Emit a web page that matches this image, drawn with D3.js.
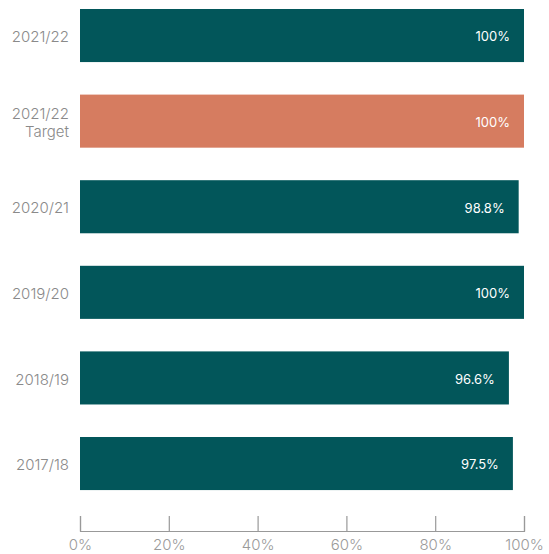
<!DOCTYPE html>
<html>
<head>
<meta charset="utf-8">
<script src="https://cdn.jsdelivr.net/npm/d3@7"></script>
<style>
  html, body { margin: 0; padding: 0; background: #fff; }
  svg { display: block; }
</style>
</head>
<body>
<svg id="chart" width="549" height="554"></svg>
<script>
// Annual performance against target (percent)
const categories = ["2021/22", "2021/22\nTarget", "2020/21", "2019/20", "2018/19", "2017/18"];
const values = [100, 100, 98.8, 100, 96.6, 97.5];
const isTarget = [false, true, false, false, false, false];
const tickValues = [0, 20, 40, 60, 80, 100];

const svg = d3.select("#chart");

const x = d3.scaleLinear().domain([0, 100]).range([80, 524]);

const step = 85.6;
const y = d3.scaleBand()
  .domain(categories)
  .range([9 - 0.19 * step, 9 - 0.19 * step + step * 6])
  .paddingInner(0.38)
  .paddingOuter(0.19);

const teal = "#02565A";
const coral = "#D67C60";
const font = "Inter, 'Open Sans', sans-serif";

// bars
svg.append("g").selectAll("rect")
  .data(categories)
  .join("rect")
  .attr("x", x(0))
  .attr("y", d => y(d))
  .attr("width", (d, i) => x(values[i]) - x(0))
  .attr("height", y.bandwidth())
  .attr("fill", (d, i) => isTarget[i] ? coral : teal);

// value labels inside bar ends
svg.append("g").selectAll("text")
  .data(categories)
  .join("text")
  .attr("x", (d, i) => x(values[i]) - 14)
  .attr("y", d => y(d) + y.bandwidth() / 2)
  .attr("dy", "0.45em")
  .attr("text-anchor", "end")
  .attr("fill", "#fff")
  .attr("font-family", font)
  .attr("font-size", 13)
  .text((d, i) => values[i] + "%");

// category labels
const cat = svg.append("g").selectAll("text")
  .data(categories)
  .join("text")
  .attr("text-anchor", "end")
  .attr("fill", "#8a8a8a")
  .attr("font-family", font)
  .attr("font-weight", 300)
  .attr("font-size", 15);

cat.each(function(d) {
  const lines = d.split("\n");
  const t = d3.select(this);
  const cy = y(d) + y.bandwidth() / 2;
  const lh = 18;
  lines.forEach((ln, j) => {
    t.append("tspan")
      .attr("x", 69)
      .attr("y", cy + (j - (lines.length - 1) / 2) * lh)
      .attr("dy", "0.45em")
      .text(ln);
  });
});

// x axis
const axis = d3.axisBottom(x)
  .tickValues(tickValues)
  .tickSize(-15)
  .tickPadding(8)
  .tickFormat(d => d + "%");

const ag = svg.append("g")
  .attr("transform", "translate(0,531)")
  .call(axis);
ag.select(".domain").attr("stroke", "#999").attr("stroke-width", 1.2);
ag.selectAll(".tick line").attr("stroke", "#999").attr("stroke-width", 1.2);
ag.selectAll(".tick text")
  .attr("fill", "#9a9a9a")
  .attr("font-family", font)
  .attr("font-weight", 300)
  .attr("font-size", 15);
</script>
</body>
</html>
